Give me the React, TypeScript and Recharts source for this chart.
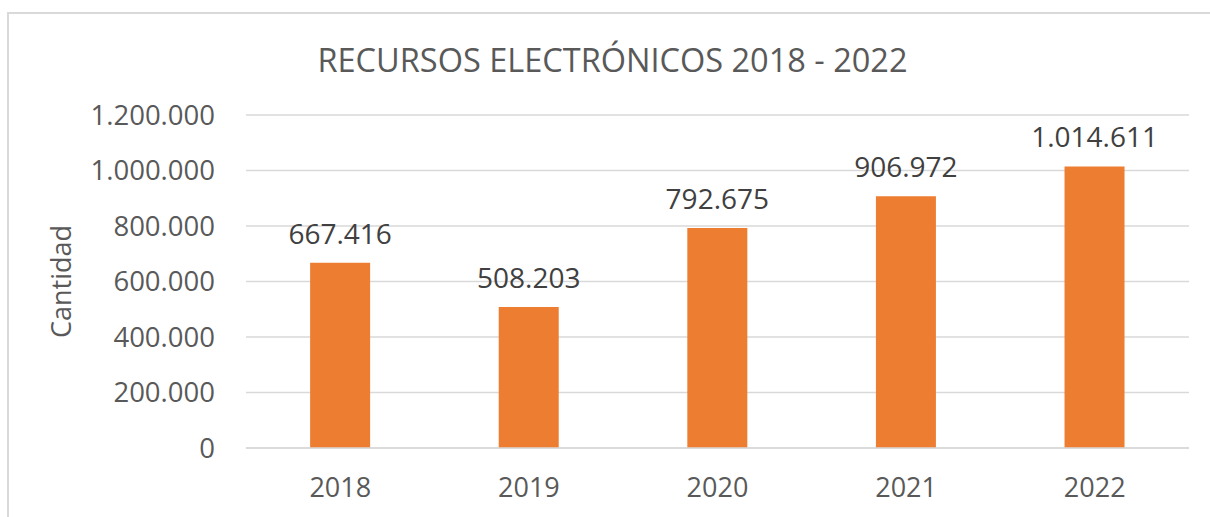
import { BarChart, Bar, XAxis, YAxis, CartesianGrid, LabelList } from "recharts";

const years = ["2018", "2019", "2020", "2021", "2022"];
const recursos = [667416, 508203, 792675, 906972, 1014611];
const yTicks = [0, 200000, 400000, 600000, 800000, 1000000, 1200000];

const data = years.map((year, i) => ({ year, value: recursos[i] }));

const FONT = "'Open Sans', 'Liberation Sans', sans-serif";
const TEXT = "#595959";

// 1.014.611 style, dots as thousand separators
const fmt = (v: number) => String(v).replace(/\B(?=(\d{3})+(?!\d))/g, ".");

const App = () => {
  return (
    <div
      style={{
        position: "fixed",
        left: 0,
        top: 0,
        width: 1210,
        height: 517,
        overflow: "hidden",
        background: "#fff",
        fontFamily: FONT,
      }}
    >
      <style>{"html,body{margin:0;overflow:hidden}"}</style>
      {/* chart frame, only top and left edges are visible in the crop */}
      <div
        style={{
          position: "absolute",
          left: 7,
          top: 12,
          width: 1203,
          height: 505,
          borderTop: "2px solid #d9d9d9",
          borderLeft: "2px solid #d9d9d9",
          boxSizing: "border-box",
        }}
      />
      <div
        style={{
          position: "absolute",
          left: 0,
          top: 38,
          width: 1225,
          textAlign: "center",
          fontSize: 32.5,
          color: TEXT,
          lineHeight: "44px",
        }}
      >
        RECURSOS ELECTRÓNICOS 2018 - 2022
      </div>
      <div style={{ position: "absolute", left: 0, top: 0 }}>
        <BarChart
          width={1210}
          height={517}
          data={data}
          margin={{ top: 115, right: 21, bottom: 0, left: 0 }}
          barCategoryGap="34%"
        >
          <CartesianGrid vertical={false} stroke="#d9d9d9" strokeWidth={1.5} />
          <XAxis
            dataKey="year"
            height={69}
            axisLine={{ stroke: "#d9d9d9", strokeWidth: 1.5 }}
            tickLine={false}
            tickMargin={24}
            tick={{ fontSize: 27, fill: TEXT, fontFamily: FONT }}
          />
          <YAxis
            width={246}
            domain={[0, 1200000]}
            ticks={yTicks}
            interval={0}
            axisLine={false}
            tickLine={false}
            tickMargin={25}
            tickFormatter={fmt}
            tick={{ fontSize: 27.5, fill: TEXT, fontFamily: FONT }}
            label={{
              value: "Cantidad",
              angle: -90,
              position: "insideLeft",
              offset: 61,
              style: { fontSize: 27, fill: TEXT, fontFamily: FONT, textAnchor: "middle" },
            }}
          />
          <Bar dataKey="value" fill="#ed7d31" isAnimationActive={false}>
            <LabelList
              dataKey="value"
              position="top"
              offset={19}
              formatter={(v: number) => fmt(v)}
              style={{ fontSize: 28, fill: "#404040", fontFamily: FONT }}
            />
          </Bar>
        </BarChart>
      </div>
    </div>
  );
};

export default App;
